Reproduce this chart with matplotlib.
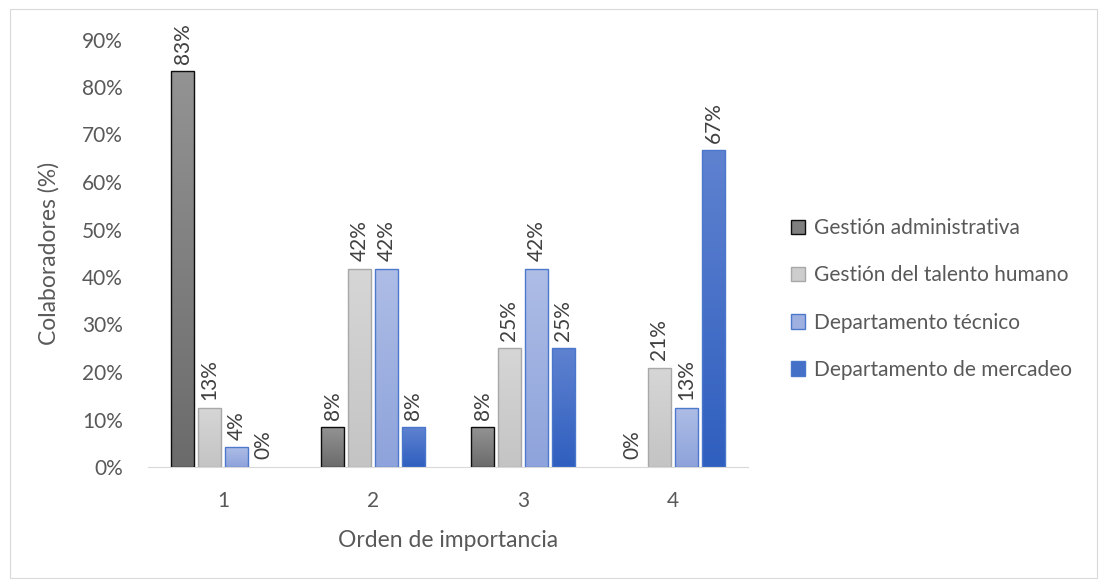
import numpy as np
import matplotlib.pyplot as plt
from matplotlib.patches import Patch

# datos de la encuesta (porcentaje de colaboradores)
ordenes = ["1", "2", "3", "4"]
series = ["Gestión administrativa", "Gestión del talento humano",
          "Departamento técnico", "Departamento de mercadeo"]
gestion_admin = [83.33, 8.33, 8.33, 0.0]
talento_humano = [12.5, 41.67, 25.0, 20.83]
depto_tecnico = [4.17, 41.67, 41.67, 12.5]
depto_mercadeo = [0.0, 8.33, 25.0, 66.67]
valores = [gestion_admin, talento_humano, depto_tecnico, depto_mercadeo]

# colores de degradado (arriba, abajo) y borde de cada serie
degradados = [("#939393", "#6b6b6b"), ("#d6d6d6", "#c4c4c4"),
              ("#aebde6", "#8ea3db"), ("#5f82d0", "#2f5fbf")]
bordes = ["#0d0d0d", "#a8a8a8", "#4d79cc", "#4a76cc"]
relleno_leyenda = ["#7f7f7f", "#cdcdcd", "#9db0e0", "#4470c8"]

plt.rcParams['font.family'] = ['Lato', 'DejaVu Sans']

fig = plt.figure(figsize=(10.99, 5.79), dpi=100)
ax = fig.add_axes([148 / 1099, 1 - 467 / 579, 600 / 1099, 427.5 / 579])

x = np.arange(len(ordenes))
ancho = 0.147
paso = 0.18

for i, vals in enumerate(valores):
    pos = x + (i - 1.5) * paso
    top, bot = degradados[i]
    cmap = plt.matplotlib.colors.LinearSegmentedColormap.from_list("g%d" % i, [bot, top])
    for p, v in zip(pos, vals):
        if v > 0:
            b = ax.bar(p, v, width=ancho, color="none", edgecolor=bordes[i],
                       linewidth=1.0, zorder=3)[0]
            grad = np.linspace(0, 1, 100).reshape(-1, 1)
            im = ax.imshow(grad, cmap=cmap, aspect="auto", origin="lower",
                           extent=[b.get_x(), b.get_x() + b.get_width(), 0, v], zorder=2)
            im.set_clip_path(b)
        # etiqueta redondeada como en Excel (mitad hacia arriba)
        ax.text(p, v + 1.6, "%d%%" % int(v + 0.5), rotation=90, ha="center",
                va="bottom", fontsize=15, color="#404040", zorder=4)

ax.set_xlim(-0.5, 3.5)
ax.set_ylim(0, 90)
ax.set_yticks(np.arange(0, 91, 10))
ax.set_yticklabels(["%d%%" % t for t in range(0, 91, 10)])
ax.set_xticks(x)
ax.set_xticklabels(ordenes)
ax.tick_params(length=0, labelsize=15, colors="#595959", pad=17)
ax.tick_params(axis="y", pad=18)
for s in ["top", "right", "left"]:
    ax.spines[s].set_visible(False)
ax.spines["bottom"].set_color("#d9d9d9")
ax.set_ylabel("Colaboradores (%)", fontsize=16.5, color="#595959", labelpad=16)
ax.set_xlabel("Orden de importancia", fontsize=16.5, color="#595959", labelpad=14)

manejadores = [Patch(facecolor=relleno_leyenda[i], edgecolor=bordes[i]) for i in range(4)]
fig.legend(manejadores, series, loc="center left", bbox_to_anchor=(772 / 1099, 1 - 299 / 579),
           frameon=False, fontsize=15, labelcolor="#595959", handlelength=0.7,
           handleheight=0.7, handletextpad=0.4, labelspacing=1.3)

# marco del area del grafico
fig.patches.append(plt.Rectangle((10 / 1099, 0.002), 1 - 10 / 1099 - 0.002, 1 - 10 / 579,
                                 transform=fig.transFigure, fill=False,
                                 edgecolor="#d9d9d9", linewidth=0.8))

fig.savefig("out.png", dpi=100)
